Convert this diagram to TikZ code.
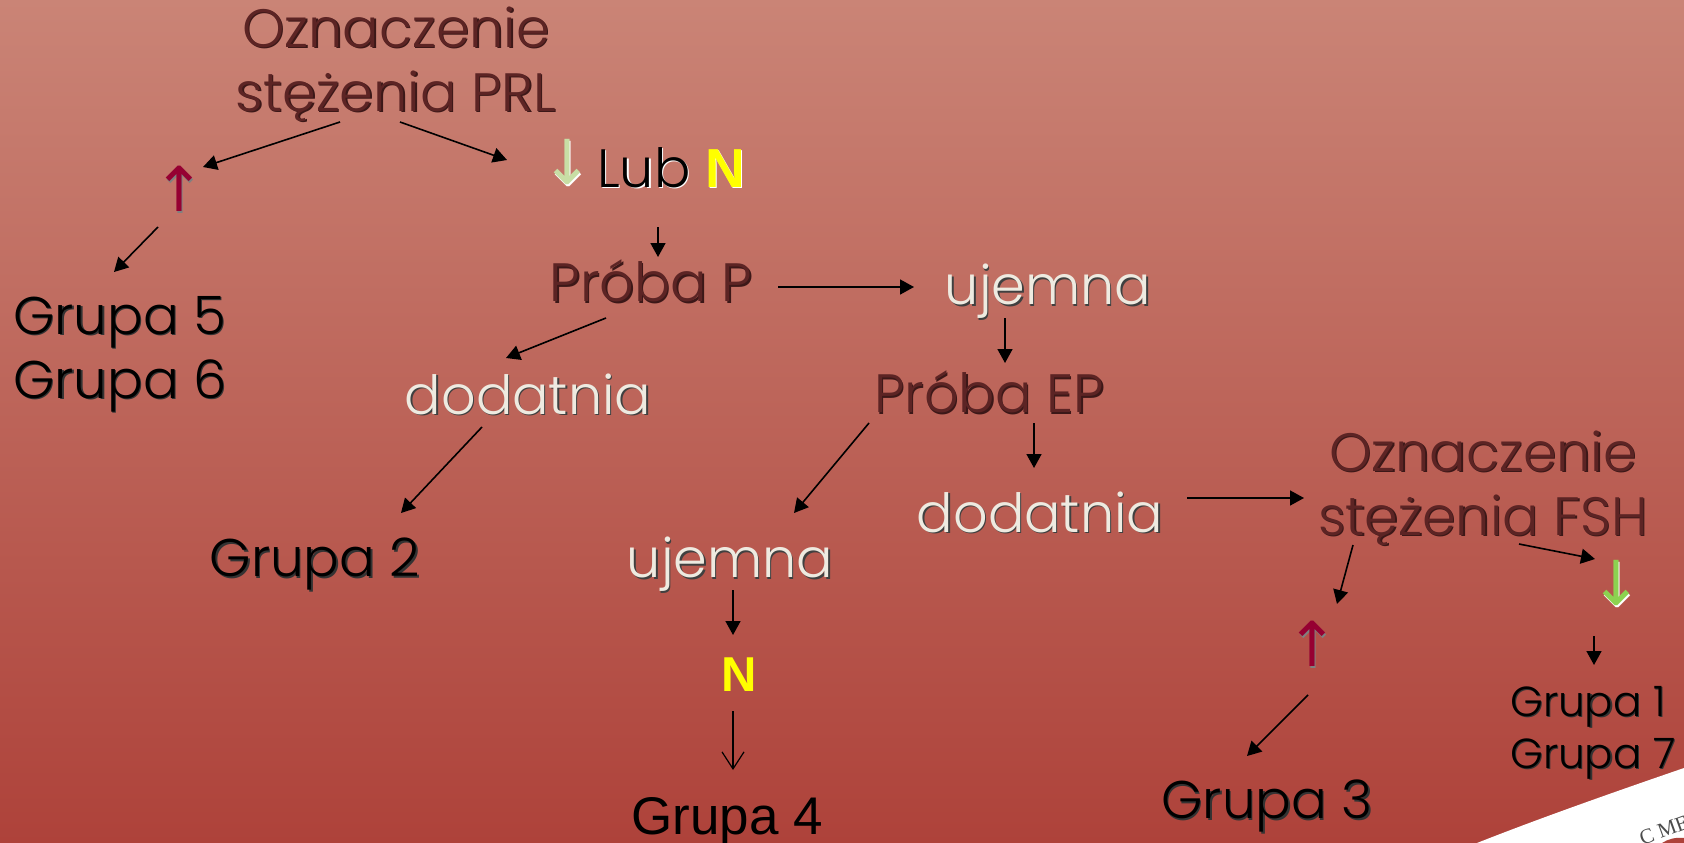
\documentclass[tikz,border=0pt]{standalone}
\usepackage{fontspec}
\setmainfont{Poppins Light}
\newfontfamily\arialfont{Liberation Sans}
\newfontfamily\serffont{Liberation Serif}
\newfontfamily\arrowfont{DejaVu Sans}
\usetikzlibrary{arrows.meta,calc}
\definecolor{TopClr}{RGB}{202,132,118}
\definecolor{BotClr}{RGB}{174,66,58}
\definecolor{HeadClr}{RGB}{92,36,36}
\definecolor{HeadShd}{RGB}{60,24,24}
\definecolor{UpClr}{RGB}{150,0,50}
\definecolor{PaleClr}{RGB}{200,222,165}
\definecolor{GreenClr}{RGB}{140,210,80}
\definecolor{YesClr}{RGB}{255,255,0}
\definecolor{PaperClr}{RGB}{238,234,224}
% text with a small drop shadow
\newcommand{\shd}[3]{\leavevmode\rlap{\kern1.5pt\raisebox{-1.5pt}{\color{#2}#3}}{\color{#1}#3}}
\newcommand{\hd}[1]{\shd{HeadClr}{HeadShd}{#1}}
\newcommand{\wh}[1]{\shd{PaperClr}{black!75}{#1}}
\newcommand{\bk}[1]{\shd{black}{black!80}{#1}}
\tikzset{
  lbl/.style={inner sep=0pt,font=\fontsize{54}{64}\selectfont,align=center},
  big/.style={lbl,font=\fontsize{53}{64}\selectfont},
  small/.style={lbl,font=\fontsize{42}{52}\selectfont,align=left},
  arr/.style={-{Triangle[length=14pt,width=15pt]},line width=1.6pt,black},
  thinarr/.style={-{Straight Barb[length=17pt,width=22pt]},line width=1.2pt,black},
  updown/.style={inner sep=0pt,font=\arrowfont\fontsize{62}{62}\selectfont}
}
\begin{document}
\begin{tikzpicture}[x=1pt,y=-1pt]
\useasboundingbox (0,0) rectangle (1684,843);
\shade[top color=TopClr,bottom color=BotClr] (0,0) rectangle (1684,843);

% corner sheet
\fill[white] (1477,843) .. controls (1540,818) and (1620,790) .. (1684,768) -- (1684,843) -- cycle;
\fill[BotClr] (1662,843) .. controls (1668,839) and (1676,837) .. (1684,838) -- (1684,843) -- cycle;
\node[rotate=20,font=\serffont\fontsize{21}{21}\selectfont,text=black!70] (corner) at (1664,830) {C ME};

% first level
\node[lbl] (prl) at (396,65) {\hd{Oznaczenie}\\\hd{stężenia PRL}};
\node[updown] (upa) at (179,190) {\shd{UpClr}{black!50}{↑}};
\node[updown] (downa) at (567,163) {\shd{PaleClr}{white}{↓}};
\node[lbl,anchor=base west] (lub) at (597,187) {\shd{black}{white}{Lub} {\arialfont\bfseries\fontsize{55}{55}\selectfont\shd{YesClr}{white}{N}}};
\node[big,anchor=north west,align=left] (gfive) at (13,296) {\bk{Grupa 5}\\\bk{Grupa 6}};

% middle
\node[lbl] (pp) at (651,282) {\hd{Próba P}};
\node[lbl] (neg) at (1048,292) {\wh{ujemna}};
\node[lbl] (pos) at (528,395) {\wh{dodatnia}};
\node[lbl] (pep) at (989,393) {\hd{Próba EP}};
\node[big] (gtwo) at (315,565) {\bk{Grupa 2}};
\node[lbl] (negb) at (730,565) {\wh{ujemna}};
\node[lbl] (posb) at (1040,513) {\wh{dodatnia}};
\node[inner sep=0pt,font=\arialfont\bfseries\fontsize{49}{49}\selectfont,text=YesClr] (nn) at (739,675) {N};
\node[inner sep=0pt,font=\arialfont\fontsize{53}{53}\selectfont,text=black] (gfour) at (727,821) {Grupa 4};

% right side
\node[lbl] (fsh) at (1483,489) {\hd{Oznaczenie}\\\hd{stężenia FSH}};
\node[updown] (upb) at (1312,645) {\shd{UpClr}{black!50}{↑}};
\node[updown] (downb) at (1616,584) {\shd{GreenClr}{white}{↓}};
\node[big] (gthree) at (1267,807) {\bk{Grupa 3}};
\node[small,anchor=north west] (gone) at (1510,686) {\bk{Grupa 1}\\\bk{Grupa 7}};

% connectors
\draw[arr] ([shift={(-56,57)}]prl.center) -- ([shift={(24,-23)}]upa.center);
\draw[arr] ([shift={(4,57)}]prl.center) -- ([shift={(-60,-3)}]downa.center);
\draw[arr] ([shift={(-21,37)}]upa.center) -- ([shift={(101,-24)}]gfive.north west);
\draw[arr] ([shift={(61,40)}]lub.base west) -- ([shift={(7,-25)}]pp.center);
\draw[arr] ([shift={(127,5)}]pp.center) -- ([shift={(-134,-5)}]neg.center);
\draw[arr] ([shift={(-45,36)}]pp.center) -- ([shift={(-22,-37)}]pos.center);
\draw[arr] ([shift={(-43,26)}]neg.center) -- ([shift={(16,-30)}]pep.center);
\draw[arr] ([shift={(-46,32)}]pos.center) -- ([shift={(86,-52)}]gtwo.center);
\draw[arr] ([shift={(-120,30)}]pep.center) -- ([shift={(64,-52)}]negb.center);
\draw[arr] ([shift={(45,30)}]pep.center) -- ([shift={(-6,-45)}]posb.center);
\draw[arr] ([shift={(147,-15)}]posb.center) -- ([shift={(-179,9)}]fsh.center);
\draw[arr] ([shift={(3,25)}]negb.center) -- ([shift={(-6,-40)}]nn.center);
\draw[thinarr] ([shift={(-6,36)}]nn.center) -- ([shift={(6,-51)}]gfour.center);
\draw[arr] ([shift={(-130,56)}]fsh.center) -- ([shift={(25,-41)}]upb.center);
\draw[arr] ([shift={(36,55)}]fsh.center) -- ([shift={(-21,-25)}]downb.center);
\draw[arr] ([shift={(-22,52)}]downb.center) -- ([shift={(84,-21)}]gone.north west);
\draw[arr] ([shift={(-4,50)}]upb.center) -- ([shift={(-20,-51)}]gthree.center);
\end{tikzpicture}
\end{document}
